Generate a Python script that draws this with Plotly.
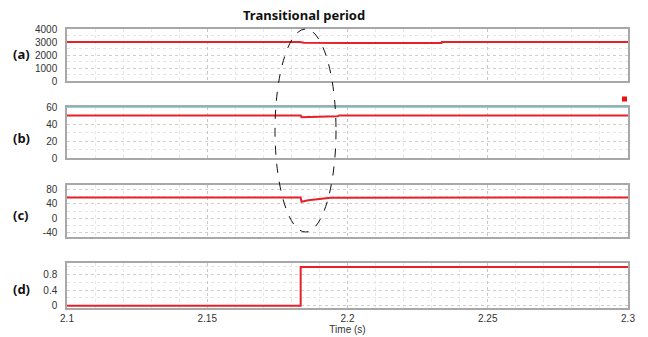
import plotly.graph_objects as go

# ---- data ----
t_a = [2.1, 2.183, 2.1845, 2.19, 2.2, 2.2335, 2.2336, 2.3]
v_a = [3000, 3000, 2935, 2920, 2925, 2930, 3000, 3000]

t_b = [2.1, 2.1833, 2.1836, 2.19, 2.1965, 2.197, 2.3]
v_b = [50, 50, 48, 48.5, 49, 50, 50]

t_c = [2.1, 2.1833, 2.1836, 2.186, 2.19, 2.194, 2.3]
v_c = [58, 58, 46, 50, 54, 57, 58]

t_d = [2.1, 2.1833, 2.1833, 2.3]
v_d = [0, 0, 1, 1]

panel_labels = ["(a)", "(b)", "(c)", "(d)"]
yticks = [[0, 1000, 2000, 3000, 4000], [0, 20, 40, 60], [-40, 0, 40, 80], [0, 0.4, 0.8]]
yticktext = [["0", "1000", "2000", "3000", "4000"], ["0", "20", "40", "60"],
             ["-40", "0", "40", "80"], ["0", "0.4", "0.8"]]
yranges = [[0, 4000], [0, 60], [-53, 93], [-0.06, 1.1]]
xticks = [2.1, 2.15, 2.2, 2.25, 2.3]
xticktext = ["2.1", "2.15", "2.2", "2.25", "2.3"]

W, H = 648, 337
px = lambda x: x / W
py = lambda y: 1 - y / H

ydomains = [(29, 81), (107, 158), (185, 237), (263, 308)]
xdom = [px(67), px(628)]

RED = "#e8202a"
fig = go.Figure()
series = [(t_a, v_a), (t_b, v_b), (t_c, v_c), (t_d, v_d)]
for i, (t, v) in enumerate(series):
    fig.add_trace(go.Scatter(x=t, y=v, mode="lines", line=dict(color=RED, width=2),
                             xaxis="x" if i == 0 else f"x{i+1}",
                             yaxis="y" if i == 0 else f"y{i+1}", showlegend=False,
                             hoverinfo="skip"))

layout = dict(width=W, height=H, margin=dict(l=0, r=0, t=0, b=0, pad=0, autoexpand=False),
              paper_bgcolor="white", plot_bgcolor="white", showlegend=False)
tickfont = dict(family="Liberation Sans, Arial", size=10, color="#333")
for i in range(4):
    xs = "xaxis" if i == 0 else f"xaxis{i+1}"
    ys = "yaxis" if i == 0 else f"yaxis{i+1}"
    yn = "y" if i == 0 else f"y{i+1}"
    xn = "x" if i == 0 else f"x{i+1}"
    top, bot = ydomains[i]
    layout[xs] = dict(domain=xdom, range=[2.1, 2.3], anchor=yn, automargin=False,
                      tickvals=xticks, ticktext=xticktext,
                      showticklabels=(i == 3), ticks="", tickfont=tickfont,
                      showgrid=True, gridcolor="#c8c8c8", griddash="dot", gridwidth=1,
                      minor=dict(dtick=0.01, tick0=2.1, showgrid=True, gridcolor="#e8e8e8",
                                 griddash="dot", gridwidth=1),
                      showline=True, linecolor="#a8a8a8", linewidth=1.5, mirror=True,
                      zeroline=False, fixedrange=True)
    if i == 3:
        layout[xs]["title"] = dict(text="Time (s)", font=dict(family="Liberation Sans, Arial", size=10, color="#333"), standoff=0)
    dy = (yticks[i][1] - yticks[i][0]) / 2
    layout[ys] = dict(domain=[py(bot), py(top)], range=yranges[i], anchor=xn, automargin=False,
                      tickvals=yticks[i], ticktext=yticktext[i], ticks="",
                      tickfont=tickfont, ticklabelstandoff=6,
                      showgrid=True, gridcolor="#cfcfcf", griddash="dot", gridwidth=1,
                      minor=dict(dtick=dy, tick0=yticks[i][0], showgrid=True, gridcolor="#e6e6e6",
                                 griddash="dot", gridwidth=1),
                      showline=True, linecolor="#a8a8a8", linewidth=1.5, mirror=True,
                      zeroline=False, fixedrange=True)

annotations = [dict(text="<b>Transitional period</b>", x=px(304), y=py(15), xref="paper", yref="paper",
                    showarrow=False, font=dict(family="Noto Sans, Open Sans", size=13, color="#111"),
                    xanchor="center", yanchor="middle")]
label_y = [54, 138, 215, 289]
for lab, yy in zip(panel_labels, label_y):
    annotations.append(dict(text=f"<b>{lab}</b>", x=px(21), y=py(yy), xref="paper", yref="paper",
                            showarrow=False, xanchor="center", yanchor="middle",
                            font=dict(family="Noto Sans, Open Sans", size=13, color="#111")))
layout["annotations"] = annotations

shapes = [
    # teal top border of panel (b)
    dict(type="line", xref="paper", yref="paper", x0=xdom[0], x1=xdom[1], y0=py(107), y1=py(107),
         line=dict(color="#7fbcbc", width=1.5)),
    # dashed ellipse marking the transitional period
    dict(type="circle", xref="paper", yref="paper", x0=px(275), x1=px(336), y0=py(232), y1=py(29),
         line=dict(color="#111", width=1, dash="dash")),
    # small red legend square
    dict(type="rect", xref="paper", yref="paper", x0=px(622), x1=px(627), y0=py(101.5), y1=py(96.5),
         fillcolor="#ee1111", line=dict(width=0)),
]
layout["shapes"] = shapes
fig.update_layout(**layout)
fig.write_html("out.html", config={"displayModeBar": False},
               post_script="document.body.style.margin='0';document.body.style.overflow='hidden';")
